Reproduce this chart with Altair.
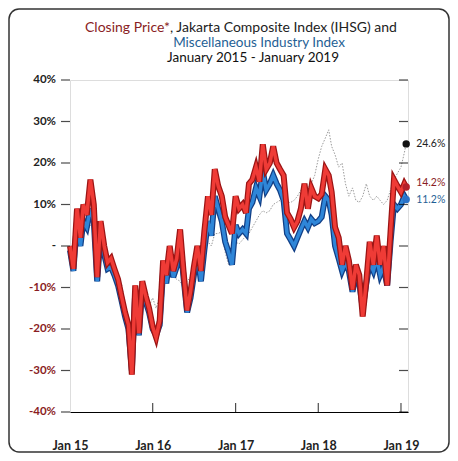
import altair as alt
import pandas as pd

# semi-monthly dates (1st and 16th) Jan 2015 .. Jan 2019, plus final point
dates = []
for y in range(2015, 2019):
    for m in range(1, 13):
        dates.append(f"{y}-{m:02d}-01")
        dates.append(f"{y}-{m:02d}-16")
dates += ["2019-01-01", "2019-01-16", "2019-01-24"]

red = [0, -5.5, 9, 2, 10, 7.5, 16, 10, -7.5, 6, 0, -4, -3, -5.5, -8, -12, -16, -19, -31, -9.5,
       -21, -8.5, -12, -15, -19.5, -22, -18, -3.5, -7, 0, -6, -3, 4, -6, -15.5, -11, -5, 0, -6, 3.5,
       12, 7.5, 18.5, 14.5, 12, 7, 5, 3, 12, 9, 10, 8, 15, 16, 19, 15.5, 24.5, 18.5, 20, 24,
       20, 18.5, 17, 8, 6.5, 4.5, 6, 9, 15, 9, 14, 12, 11.5, 12.5, 18.5, 17, 13, 4.5, 2, -4.5,
       0, -3.5, -10.5, -4.5, -7, -17, -8.5, 1, -4.5, 2.5, -4.5, 0, -9.5, 3.5, 16, 14.5, 13, 15, 14.2]

blue = [-1, -6, 6, 0, 6, 4.5, 9, 6, -8.5, 3, -2, -5.5, -5, -7, -9.5, -13, -17, -20, -30, -11,
        -21.5, -10, -13.5, -16, -20, -21.5, -19, -6, -9, -2.5, -7.5, -5, 1.5, -7.5, -16, -12.5, -7, -2, -8.5, -1,
        6, 2.5, 12, 9, 6, 1, -1.5, -4.5, 5, 3, 4, 3, 9, 10.5, 14, 12, 18, 13.5, 15, 17,
        15, 13.5, 11, 3, 1.5, 0, 2, 4, 6, 4.5, 6.5, 5.5, 6, 7, 12, 11, 7.5, 0, -3, -6,
        -4, -6, -11, -7, -9, -15, -9, -4, -6, -3, -7, -5, -9.5, 1, 10, 9, 10, 12, 11.2]

ihsg = [0, -0.5, 0.9, 3, 4, 3.5, 5, 4.5, -2.5, 0.5, -0.5, -4.5, -5.5, -5.5, -8.5, -9, -14, -17, -21, -13,
        -14.5, -14, -14.5, -14.5, -12.5, -15, -12, -9, -8, -7, -7.5, -8, -8.5, -10, -8.5, -7.5, -5.5, -2.5, 0.7, 3,
        1, 0, 3, 3, 3.5, -1.5, -4.5, 0, 1, 0.5, 1.5, 2.5, 3, 4.5, 6, 7.5, 8.5, 8, 8.5, 10,
        10.5, 11, 10, 10.5, 10.5, 11, 12, 13.5, 14.5, 14, 15, 17, 21, 24, 26, 28, 24, 22, 19, 20,
        15, 12, 14, 11, 10.5, 12, 15, 12, 11, 12, 11, 10, 11, 13.5, 16, 17.5, 19, 22.5, 24.6]

end_labels = ["24.6%", "14.2%", "11.2%"]
y_ticks = [-40, -30, -20, -10, 0, 10, 20, 30, 40]
y_tick_labels = ["-40%", "-30%", "-20%", "-10%", "-", "10%", "20%", "30%", "40%"]
x_ticks = ["2015-01-01", "2016-01-01", "2017-01-01", "2018-01-01", "2019-01-01"]

W, H = 338, 332
FONT = "Lato"
MAROON = "#8a1d24"
BLUE_T = "#1f5f95"

df = pd.DataFrame({"date": dates, "red": red, "blue": blue, "ihsg": ihsg})

xs = alt.X("date:T",
           scale=alt.Scale(domain=["2015-01-01", "2019-02-01"]),
           axis=alt.Axis(values=x_ticks, format="%b %y", title=None, ticks=False,
                         labelPadding=27, labelFontSize=12.5, labelFont=FONT, labelFontWeight="bold",
                         labelColor="#222", domainColor="black", domainWidth=1.2, grid=False,
                         labelFlush=False))
ysc = alt.Scale(domain=[-40, 40], nice=False)

def ycol(col, axis=False):
    if axis:
        return alt.Y(f"{col}:Q", scale=ysc,
                     axis=alt.Axis(values=y_ticks, title=None, ticks=False, grid=False, labels=False,
                                   domainColor="black", domainWidth=1.2))
    return alt.Y(f"{col}:Q", scale=ysc, axis=None)

base = alt.Chart(df)
gray_line = base.mark_line(color="#9a9a9a", strokeWidth=1, strokeDash=[1.5, 1.5]).encode(x=xs, y=ycol("ihsg", True))
blue_edge = base.mark_line(color="#123f86", strokeWidth=6).encode(x="date:T", y=ycol("blue"))
blue_line = base.mark_line(color="#2f86d8", strokeWidth=3.5).encode(x="date:T", y=ycol("blue"))
red_edge = base.mark_line(color="#9c1414", strokeWidth=6).encode(x="date:T", y=ycol("red"))
red_line = base.mark_line(color="#ef3b36", strokeWidth=3.5).encode(x="date:T", y=ycol("red"))

last = pd.DataFrame({
    "date": [dates[-1]] * 3,
    "v": [ihsg[-1], red[-1], blue[-1]],
    "label": end_labels,
    "col": ["#111111", "#b3202a", "#2a72c8"],
    "tcol": ["#222222", MAROON, BLUE_T],
    "dy": [0, -4, 0],
})
dots = alt.Chart(last).mark_circle(size=55, opacity=1).encode(
    x="date:T", y=ycol("v"), color=alt.Color("col:N", scale=None))
lab_parts = []
for i in range(3):
    lab_parts.append(
        alt.Chart(last.iloc[[i]]).mark_text(align="left", dx=10, dy=float(last["dy"][i]), fontSize=10.5,
                                            font=FONT, color=last["tcol"][i]).encode(
            x="date:T", y=ycol("v"), text="label:N"))

ytk = pd.DataFrame({"v": y_ticks, "lab": y_tick_labels,
                    "c": ["#8a1d24" if v < 0 else "#222222" for v in y_ticks]})
ylabels = alt.Chart(ytk).mark_text(align="right", baseline="middle", fontSize=11.5, font=FONT,
                                   fontWeight="bold").encode(
    y=ycol("v"), x=alt.value(-14), text="lab:N", color=alt.Color("c:N", scale=None))
left_ticks = alt.Chart(ytk).mark_tick(orient="horizontal", size=9, thickness=1.2, color="black").encode(
    y=ycol("v"), x=alt.value(-4.5))
right_ticks = alt.Chart(ytk).mark_tick(orient="horizontal", size=9, thickness=1.2, color="black").encode(
    y=ycol("v"), x=alt.value(W - 4.5))
xtk = pd.DataFrame({"d": x_ticks[1:]})
bottom_ticks = alt.Chart(xtk).mark_tick(orient="vertical", size=9, thickness=1.2, color="black").encode(
    x=alt.X("d:T"), y=alt.value(H - 4.5))

def txt(s, x, y, color, size, align="center", weight="normal"):
    return alt.Chart(pd.DataFrame({"t": [s]})).mark_text(
        align=align, baseline="middle", fontSize=size, font=FONT, color=color, fontWeight=weight).encode(
        text="t:N", x=alt.value(x), y=alt.value(y))

t1a = txt("Closing Price*", 100, -52, MAROON, 14, align="right")
t1b = txt(", Jakarta Composite Index (IHSG) and", 100, -52, "#222", 14, align="left")
t2 = txt("Miscellaneous Industry Index", 189, -37, BLUE_T, 13.5)
t3 = txt("January 2015 - January 2019", 183, -22, "#111", 13.5)

frame = alt.Chart(pd.DataFrame({"a": [0]})).mark_rect(
    filled=False, stroke="#333", strokeWidth=1.5, cornerRadius=10).encode(
    x=alt.value(-61), x2=alt.value(W + 41), y=alt.value(-71), y2=alt.value(H + 40))

chart = alt.layer(
    frame, gray_line, blue_edge, blue_line, red_edge, red_line, dots, *lab_parts,
    ylabels, left_ticks, right_ticks, bottom_ticks, t1a, t1b, t2, t3
).properties(
    width=W, height=H,
    autosize=alt.AutoSizeParams(type="none"),
    padding={"left": 62, "top": 72, "right": 42, "bottom": 41},
).configure_view(stroke="black", strokeWidth=1.2).configure(background="white")

chart.save("out.html", embed_options={"renderer": "svg", "actions": False})
